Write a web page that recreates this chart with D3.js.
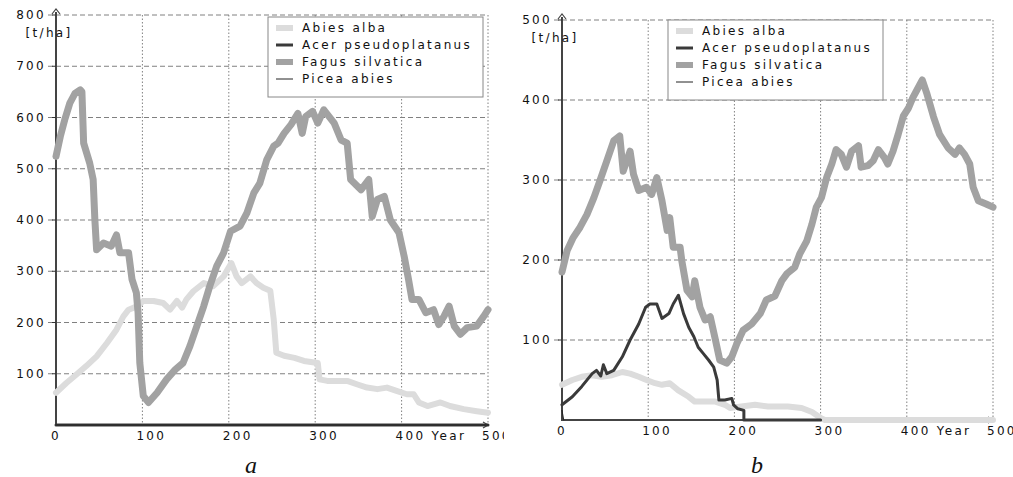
<!DOCTYPE html>
<html>
<head>
<meta charset="utf-8">
<script src="https://cdn.jsdelivr.net/npm/d3@7"></script>
<style>
  body { margin: 0; background: #fff; overflow: hidden; }
  text { font-family: "DejaVu Sans", sans-serif; font-size: 12px; letter-spacing: 2.3px; fill: #111; }
</style>
</head>
<body>
<script>
const width = 1013;
const height = 477;

// chart a: [year, t/ha]
const abiesA = [[0,63],[12,82],[24,99],[35,115],[47,134],[59,160],[70,186],[78,212],[84,225],[93,231],[101,242],[113,242],[124,238],[132,225],[140,242],[146,229],[151,245],[159,261],[171,277],[182,271],[194,290],[203,316],[209,290],[215,277],[225,290],[232,277],[240,268],[248,262],[252,206],[255,141],[264,135],[276,131],[287,125],[303,121],[305,89],[314,86],[337,86],[349,79],[360,73],[372,70],[383,73],[395,66],[406,60],[414,60],[420,44],[430,37],[445,44],[456,37],[472,31],[487,27],[500,24]];
const acerA = [[0,0],[500,0]];
const fagusA = [[0,524],[5,563],[10,595],[16,628],[22,647],[28,654],[30,650],[32,550],[39,511],[43,479],[45,400],[47,342],[55,355],[64,349],[70,371],[74,336],[84,336],[88,284],[93,258],[95,219],[97,121],[101,57],[107,44],[117,63],[128,89],[138,108],[147,121],[155,154],[163,193],[171,232],[178,271],[186,310],[194,336],[202,378],[213,388],[221,414],[229,453],[236,472],[244,518],[252,544],[257,550],[264,569],[272,586],[280,608],[285,569],[289,602],[297,612],[303,589],[310,615],[322,589],[330,556],[337,550],[341,479],[353,459],[362,479],[366,407],[372,440],[380,446],[387,400],[397,375],[403,329],[408,284],[412,245],[420,245],[428,219],[437,225],[443,196],[449,212],[455,232],[461,193],[468,177],[476,190],[487,193],[495,212],[500,225]];
const piceaA = [[0,0],[500,0]];

// chart b
const abiesB = [[0,44],[12,50],[23,54],[35,56],[46,54],[58,56],[70,60],[79,58],[89,54],[98,50],[108,46],[116,44],[125,46],[135,37],[147,29],[154,23],[166,23],[178,23],[189,19],[195,15],[208,17],[224,19],[239,17],[253,17],[262,17],[278,15],[290,10],[301,2],[305,0],[500,0]];
const acerB = [[0,19],[12,29],[23,42],[35,58],[40,62],[45,55],[48,69],[52,58],[60,62],[70,79],[79,100],[89,120],[97,141],[102,145],[110,145],[116,127],[124,133],[129,145],[135,156],[141,133],[147,116],[153,104],[158,91],[164,83],[170,75],[176,66],[180,50],[182,25],[189,25],[197,27],[199,19],[204,14],[211,12],[211,0],[300,0]];
const fagusB = [[0,185],[6,212],[13,228],[21,241],[29,257],[37,278],[44,299],[52,324],[60,349],[67,355],[71,311],[79,336],[83,307],[89,287],[98,291],[104,282],[110,303],[116,274],[122,237],[125,253],[129,216],[137,216],[139,199],[145,162],[151,154],[154,174],[160,141],[166,125],[172,129],[178,100],[183,75],[191,71],[197,79],[203,96],[210,112],[220,120],[230,133],[237,150],[247,155],[255,174],[261,183],[270,191],[276,208],[284,224],[290,245],[295,266],[301,278],[307,303],[313,320],[318,338],[324,332],[330,316],[336,336],[344,343],[347,316],[355,318],[361,324],[367,338],[374,328],[378,320],[384,336],[390,357],[396,380],[402,390],[407,403],[413,415],[418,425],[423,409],[431,379],[438,357],[448,340],[456,332],[461,340],[467,332],[473,320],[477,291],[483,274],[492,270],[500,266]];
const piceaB = [[0,12],[2,0]];

const speciesNames = ["Abies alba", "Acer pseudoplatanus", "Fagus silvatica", "Picea abies"];
const xTicks = [0, 100, 200, 300, 400, 500];
const xTickLabels = ["0", "100", "200", "300", "400 Year", "500"];
const yTicksA = [100, 200, 300, 400, 500, 600, 700, 800];
const yTicksB = [100, 200, 300, 400, 500];
const yUnit = "[t/ha]";

const styles = [
  { color: "#dcdcdc", width: 6, legend: "rect" },
  { color: "#3a3a3a", width: 3, legend: "line" },
  { color: "#a2a2a2", width: 7, legend: "rect" },
  { color: "#222222", width: 1, legend: "line" }
];

const svg = d3.select("body")
  .append("svg")
  .attr("width", width)
  .attr("height", height);

svg.append("defs").append("clipPath")
  .attr("id", "clipA")
  .append("rect")
  .attr("x", 0).attr("y", 0).attr("width", 504).attr("height", height);

function drawChart(opts) {
  const g = svg.append("g");
  if (opts.clip) g.attr("clip-path", `url(#${opts.clip})`);

  const x = d3.scaleLinear().domain([0, 500]).range(opts.xRange);
  const y = d3.scaleLinear().domain([0, opts.yMax]).range(opts.yRange);
  const x0 = x(0), yTop = y(opts.yMax), yBot = y(0);

  // grid
  g.selectAll(".hgrid")
    .data(opts.yTicks)
    .join("line")
    .attr("x1", x0 - 8).attr("x2", x(500))
    .attr("y1", d => y(d)).attr("y2", d => y(d))
    .attr("stroke", "#808080")
    .attr("stroke-dasharray", "5,3");

  g.selectAll(".vgrid")
    .data(xTicks.slice(1))
    .join("line")
    .attr("x1", d => x(d)).attr("x2", d => x(d))
    .attr("y1", yTop).attr("y2", yBot)
    .attr("stroke", "#808080")
    .attr("stroke-dasharray", "1.5,2");

  // axes
  g.append("line")
    .attr("x1", x0).attr("x2", x0)
    .attr("y1", yBot + 1).attr("y2", yTop - 3)
    .attr("stroke", "#444").attr("stroke-width", 2);
  g.append("path")
    .attr("d", `M${x0 - 4},${yTop - 1} L${x0},${yTop - 6} L${x0 + 4},${yTop - 1}`)
    .attr("fill", "none").attr("stroke", "#444").attr("stroke-width", 1.2);
  g.append("line")
    .attr("x1", x0).attr("x2", x(500))
    .attr("y1", yBot).attr("y2", yBot)
    .attr("stroke", "#444").attr("stroke-width", 2);
  g.append("path")
    .attr("d", `M${x(500) - 5},${yBot - 3} L${x(500)},${yBot} L${x(500) - 5},${yBot + 3}`)
    .attr("fill", "none").attr("stroke", "#444").attr("stroke-width", 1.2);

  g.selectAll(".ytick")
    .data(opts.yTicks)
    .join("line")
    .attr("x1", x0 - 4).attr("x2", x0)
    .attr("y1", d => y(d)).attr("y2", d => y(d))
    .attr("stroke", "#333");

  g.selectAll(".ylabel")
    .data(opts.yTicks)
    .join("text")
    .attr("x", x0 - 10)
    .attr("y", d => y(d) + 4)
    .attr("text-anchor", "end")
    .text(d => d);

  g.append("text")
    .attr("x", x0 - 7)
    .attr("y", yTop + 22)
    .attr("text-anchor", "middle")
    .text(yUnit);

  g.selectAll(".xlabel")
    .data(xTicks)
    .join("text")
    .attr("x", (d, i) => x(d) - (i === 0 ? 5 : 6))
    .attr("y", yBot + opts.xLabelDy)
    .text((d, i) => xTickLabels[i]);

  // series
  const line = d3.line().x(d => x(d[0])).y(d => y(d[1]));
  opts.order.forEach(i => {
    g.append("path")
      .datum(opts.series[i])
      .attr("d", line)
      .attr("fill", "none")
      .attr("stroke", styles[i].color)
      .attr("stroke-width", styles[i].width)
      .attr("stroke-linejoin", "round")
      .attr("stroke-linecap", "round");
  });

  // legend
  const lg = g.append("g").attr("transform", `translate(${opts.legend[0]},${opts.legend[1]})`);
  lg.append("rect")
    .attr("width", 215).attr("height", 80)
    .attr("fill", "#fff").attr("stroke", "#888");
  speciesNames.forEach((name, i) => {
    const cy = 11 + i * 17;
    if (styles[i].legend === "rect") {
      lg.append("rect")
        .attr("x", 8).attr("y", cy - 3)
        .attr("width", 17).attr("height", 6)
        .attr("fill", styles[i].color);
    } else {
      lg.append("line")
        .attr("x1", 8).attr("x2", 25)
        .attr("y1", cy).attr("y2", cy)
        .attr("stroke", styles[i].color)
        .attr("stroke-width", i === 1 ? 3 : 1);
    }
    lg.append("text")
      .attr("x", 34).attr("y", cy + 4)
      .text(name);
  });

  svg.append("text")
    .attr("x", opts.tag[0]).attr("y", opts.tag[1])
    .style("font-family", "'Liberation Serif', serif")
    .style("font-style", "italic")
    .style("font-size", "24px")
    .style("letter-spacing", "0")
    .text(opts.tagText);
}

drawChart({
  xRange: [56, 488], yMax: 800, yRange: [425, 15], yTicks: yTicksA,
  series: [abiesA, acerA, fagusA, piceaA], order: [1, 3, 0, 2],
  legend: [268, 17], xLabelDy: 15, clip: "clipA",
  tag: [245, 473], tagText: "a"
});

drawChart({
  xRange: [562, 993], yMax: 500, yRange: [420, 20], yTicks: yTicksB,
  series: [abiesB, acerB, fagusB, piceaB], order: [0, 1, 2, 3],
  legend: [668, 20], xLabelDy: 15, clip: null,
  tag: [751, 473], tagText: "b"
});
</script>
</body>
</html>
